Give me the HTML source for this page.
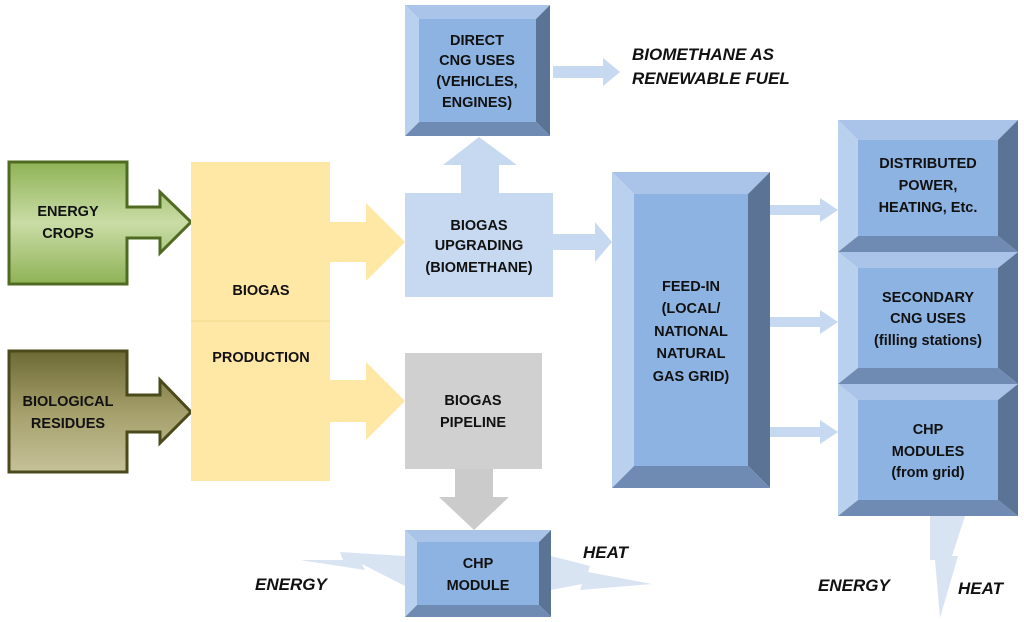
<!DOCTYPE html>
<html><head><meta charset="utf-8"><style>
html,body{margin:0;padding:0;background:#fff;}
svg{display:block}
text{font-family:"Liberation Sans",sans-serif;font-weight:bold;font-size:14.5px;fill:#111;text-anchor:middle}
.it{font-style:italic;font-size:17px;text-anchor:start}
</style></head><body>
<svg width="1024" height="622" viewBox="0 0 1024 622" xmlns="http://www.w3.org/2000/svg">
<defs>
<linearGradient id="g1" x1="0" y1="0" x2="0" y2="1"><stop offset="0" stop-color="#8fb356"/><stop offset="0.5" stop-color="#c9dca6"/><stop offset="1" stop-color="#8fb356"/></linearGradient>
<linearGradient id="g2" x1="0" y1="0" x2="0" y2="1"><stop offset="0" stop-color="#6e6a35"/><stop offset="0.5" stop-color="#a49f6a"/><stop offset="1" stop-color="#c6c198"/></linearGradient>
</defs>
<path d="M9,162 H127 V207 H160 V192 L191,222 L160,253 V238 H127 V284 H9 Z" fill="url(#g1)" stroke="#4f6b22" stroke-width="3"/>
<text x="68" y="216">ENERGY</text><text x="68" y="238">CROPS</text>
<path d="M9,351 H127 V395 H160 V380 L191,412 L160,443 V432 H127 V472 H9 Z" fill="url(#g2)" stroke="#4a4a1c" stroke-width="3"/>
<text x="68" y="406">BIOLOGICAL</text><text x="68" y="428">RESIDUES</text>
<rect x="191" y="162" width="139" height="319" fill="#ffe8a6"/>
<line x1="191" y1="321" x2="330" y2="321" stroke="#f3d98c"/>
<text x="261" y="295">BIOGAS</text><text x="261" y="362">PRODUCTION</text>
<path d="M330,222 H366 V203 L405,242 L366,281 V262 H330 Z" fill="#ffe8a6"/>
<path d="M330,380 H366 V362 L405,401 L366,440 V422 H330 Z" fill="#ffe8a6"/>
<rect x="405" y="193" width="148" height="104" fill="#c6d9f0"/>
<text x="479" y="230">BIOGAS</text><text x="479" y="250">UPGRADING</text><text x="479" y="272">(BIOMETHANE)</text>
<path d="M461,193 V165 H443 L479,137 L517,165 H499 V193 Z" fill="#c6d9f0"/>
<path d="M553,234 H595 V222 L612,242 L595,262 V250 H553 Z" fill="#c6d9f0"/>
<path d="M553,66 H603 V58 L620,72 L603,86 V78 H553 Z" fill="#c6d9f0"/>
<text class="it" x="632" y="60">BIOMETHANE AS</text><text class="it" x="632" y="84">RENEWABLE FUEL</text>
<path d="M770,205 H820 V198 L838,210 L820,222 V215 H770 Z" fill="#c6d9f0"/>
<path d="M770,317 H820 V310 L838,322 L820,334 V327 H770 Z" fill="#c6d9f0"/>
<path d="M770,427 H820 V420 L838,432 L820,444 V437 H770 Z" fill="#c6d9f0"/>
<rect x="405" y="353" width="137" height="116" fill="#d0d0d0"/>
<text x="473" y="405">BIOGAS</text><text x="473" y="427">PIPELINE</text>
<path d="M455,469 V497 H439 L474,530 L509,497 H493 V469 Z" fill="#cbcbcb"/>
<path d="M405,556 L340,552 L343,560 L300,560 L365,570 L362,564 L405,586 Z" fill="#d9e4f2"/>
<path d="M551,556 L590,566 L588,572 L652,584 L580,590 L582,584 L551,590 Z" fill="#d9e4f2"/>
<path d="M930,516 L965,516 L952,556 L958,556 L940,618 L935,560 L930,560 Z" fill="#d9e4f2"/>
<text class="it" x="255" y="590">ENERGY</text><text class="it" x="583" y="558">HEAT</text>
<text class="it" x="818" y="591">ENERGY</text><text class="it" x="958" y="594">HEAT</text>
<polygon points="405,5 550,5 536,19 419,19" fill="#a9c4e8"/><polygon points="405,5 419,19 419,122 405,136" fill="#b9d0ee"/>
<polygon points="550,5 550,136 536,122 536,19" fill="#5b7496"/><polygon points="405,136 550,136 536,122 419,122" fill="#6f8bb3"/>
<rect x="419" y="19" width="117" height="103" fill="#8db3e2"/>
<text x="477" y="45">DIRECT</text><text x="477" y="65">CNG USES</text><text x="477" y="86">(VEHICLES,</text><text x="477" y="107">ENGINES)</text>
<polygon points="612,172 770,172 748,194 634,194" fill="#a9c4e8"/><polygon points="612,172 634,194 634,466 612,488" fill="#b9d0ee"/>
<polygon points="770,172 770,488 748,466 748,194" fill="#5b7496"/><polygon points="612,488 770,488 748,466 634,466" fill="#6f8bb3"/>
<rect x="634" y="194" width="114" height="272" fill="#8db3e2"/>
<text x="691" y="291">FEED-IN</text><text x="691" y="313">(LOCAL/</text><text x="691" y="336">NATIONAL</text><text x="691" y="358">NATURAL</text><text x="691" y="381">GAS GRID)</text>
<polygon points="838,120 1018,120 998,140 858,140" fill="#a9c4e8"/><polygon points="838,120 858,140 858,236 838,252" fill="#b9d0ee"/>
<polygon points="1018,120 1018,252 998,236 998,140" fill="#5b7496"/><polygon points="838,252 1018,252 998,236 858,236" fill="#6f8bb3"/>
<rect x="858" y="140" width="140" height="96" fill="#8db3e2"/>
<text x="928" y="168">DISTRIBUTED</text><text x="928" y="190">POWER,</text><text x="928" y="212">HEATING, Etc.</text>
<polygon points="838,252 1018,252 998,268 858,268" fill="#a9c4e8"/><polygon points="838,252 858,268 858,368 838,384" fill="#b9d0ee"/>
<polygon points="1018,252 1018,384 998,368 998,268" fill="#5b7496"/><polygon points="838,384 1018,384 998,368 858,368" fill="#6f8bb3"/>
<rect x="858" y="268" width="140" height="100" fill="#8db3e2"/>
<text x="928" y="302">SECONDARY</text><text x="928" y="323">CNG USES</text><text x="928" y="345">(filling stations)</text>
<polygon points="838,384 1018,384 998,400 858,400" fill="#a9c4e8"/><polygon points="838,384 858,400 858,500 838,516" fill="#b9d0ee"/>
<polygon points="1018,384 1018,516 998,500 998,400" fill="#5b7496"/><polygon points="838,516 1018,516 998,500 858,500" fill="#6f8bb3"/>
<rect x="858" y="400" width="140" height="100" fill="#8db3e2"/>
<text x="928" y="434">CHP</text><text x="928" y="456">MODULES</text><text x="928" y="477">(from grid)</text>
<polygon points="405,530 551,530 539,542 417,542" fill="#a9c4e8"/><polygon points="405,530 417,542 417,605 405,617" fill="#b9d0ee"/>
<polygon points="551,530 551,617 539,605 539,542" fill="#5b7496"/><polygon points="405,617 551,617 539,605 417,605" fill="#6f8bb3"/>
<rect x="417" y="542" width="122" height="63" fill="#8db3e2"/>
<text x="478" y="568">CHP</text><text x="478" y="590">MODULE</text>
</svg>
</body></html>
